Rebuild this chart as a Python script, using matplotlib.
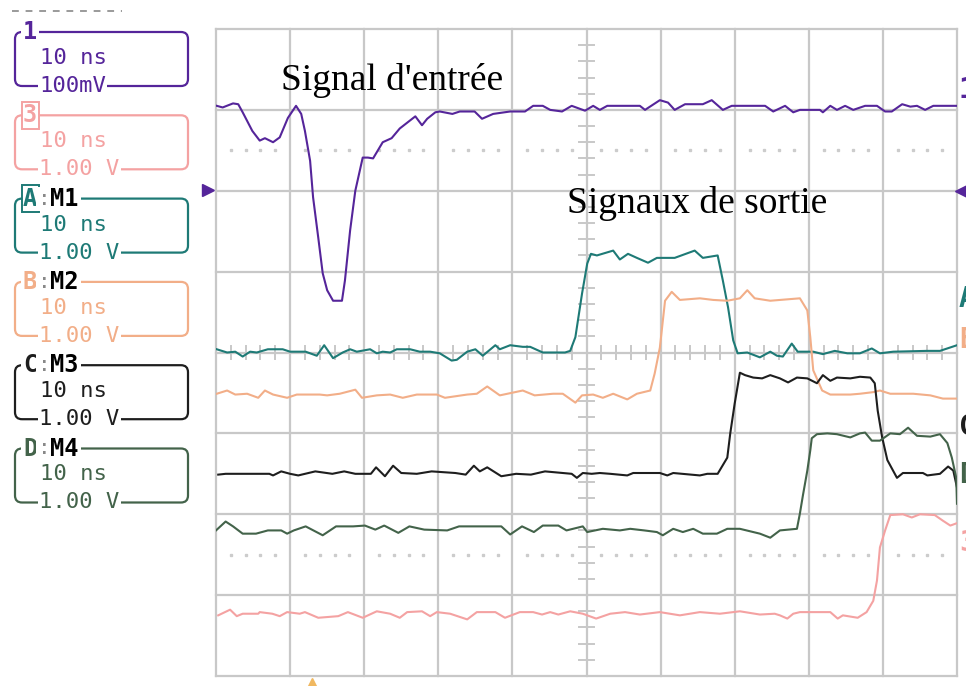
import matplotlib
matplotlib.use("Agg")
import matplotlib.pyplot as plt
from matplotlib.patches import FancyBboxPatch

# time in ns (10 ns/div), amplitude in screen divisions (0 = screen centre)
ch1_t = [0.1, 0.9, 2.3, 3.0, 3.6, 4.9, 5.9, 6.6, 7.7, 8.6, 9.7, 10.8, 11.5, 12.0, 12.7, 13.1, 13.8, 14.4,
         15.0, 15.8, 17.0, 17.4, 18.1, 18.8, 19.8, 20.5, 21.2, 22.5, 23.7, 24.8, 26.2, 26.9, 27.8, 28.5,
         29.6, 30.2, 31.9, 32.9, 34.9, 35.9, 37.4, 39.7, 41.7, 42.8, 44.1, 45.1, 46.7, 48.0, 49.8, 50.9,
         51.8, 52.8, 54.5, 57.2, 57.9, 59.9, 61.0, 61.9, 63.3, 65.7, 66.9, 68.4, 69.6, 74.1, 75.2, 76.8,
         77.9, 78.8, 81.5, 81.9, 82.9, 83.8, 84.9, 86.0, 87.6, 89.2, 90.3, 91.2, 92.6, 93.7, 94.6, 95.7,
         96.8, 100.0]
ch1_v = [3.05, 3.03, 3.08, 3.07, 2.97, 2.74, 2.62, 2.65, 2.60, 2.66, 2.90, 3.05, 2.95, 2.74, 2.37, 1.92,
         1.42, 0.98, 0.77, 0.64, 0.64, 0.89, 1.51, 2.00, 2.41, 2.41, 2.40, 2.60, 2.65, 2.77, 2.87, 2.92,
         2.81, 2.89, 2.97, 2.98, 2.95, 2.98, 2.98, 2.89, 2.95, 2.98, 2.98, 3.05, 3.05, 3.00, 2.98, 3.05,
         2.99, 3.05, 3.00, 3.05, 3.05, 3.05, 3.00, 3.12, 3.09, 3.00, 3.07, 3.07, 3.12, 3.00, 3.05, 3.05,
         2.98, 3.05, 2.97, 3.00, 3.00, 2.97, 3.05, 3.00, 3.05, 3.00, 3.05, 3.05, 2.98, 2.98, 3.07, 3.04,
         3.05, 3.00, 3.05, 3.05]

m1_t = [0.1, 1.5, 2.6, 3.6, 4.6, 5.5, 7.0, 9.0, 10.0, 12.1, 13.6, 14.6, 15.8, 17.1, 18.1, 19.0, 20.8,
        21.7, 22.5, 23.5, 24.4, 26.2, 27.5, 28.9, 30.2, 31.8, 32.5, 33.9, 35.0, 36.0, 37.7, 38.3, 39.7,
        41.4, 42.4, 44.1, 45.5, 47.1, 47.8, 48.5, 49.4, 50.1, 50.6, 51.4, 53.6, 54.5, 55.6, 56.8, 58.3,
        59.5, 61.9, 64.6, 65.7, 67.7, 68.4, 69.1, 69.8, 70.4, 71.7, 73.4, 74.8, 75.7, 76.5, 77.7, 78.5,
        80.6, 81.9, 83.5, 85.2, 86.9, 88.5, 89.6, 91.4, 95.9, 97.7, 100.0]
m1_v = [0.04, 0.00, 0.01, -0.05, 0.01, 0.00, 0.04, 0.04, 0.01, 0.01, -0.04, 0.09, -0.07, 0.00, 0.04,
        0.01, 0.04, -0.01, 0.01, 0.00, 0.04, 0.04, 0.01, 0.01, -0.01, -0.10, -0.09, 0.01, 0.04, -0.04,
        0.09, 0.04, 0.09, 0.07, 0.07, 0.00, 0.00, 0.00, 0.02, 0.19, 0.73, 1.10, 1.22, 1.20, 1.26, 1.15,
        1.22, 1.17, 1.11, 1.17, 1.17, 1.26, 1.17, 1.20, 0.89, 0.56, 0.15, -0.01, 0.00, -0.06, 0.01,
        -0.04, -0.05, 0.11, 0.01, 0.01, -0.02, 0.02, -0.01, -0.01, 0.05, -0.01, 0.01, 0.02, 0.02, 0.09]

m2_t = [0.1, 1.5, 2.6, 4.2, 5.7, 6.6, 7.7, 9.6, 10.9, 14.0, 15.0, 16.7, 18.8, 19.7, 21.7, 23.5, 25.2,
        27.1, 29.8, 30.9, 33.9, 35.2, 36.6, 38.3, 41.4, 43.0, 45.5, 46.8, 48.5, 49.4, 50.9, 52.2, 53.6,
        55.5, 56.8, 58.6, 59.2, 59.9, 60.6, 61.5, 62.6, 65.3, 67.1, 69.0, 70.7, 71.7, 72.7, 74.8, 78.8,
        79.8, 80.2, 80.6, 81.8, 82.9, 85.6, 86.9, 88.7, 89.6, 91.0, 94.1, 96.4, 98.1, 100.0]
m2_v = [-0.51, -0.47, -0.52, -0.51, -0.56, -0.47, -0.52, -0.56, -0.52, -0.52, -0.53, -0.51, -0.46,
        -0.56, -0.53, -0.52, -0.56, -0.52, -0.52, -0.56, -0.52, -0.51, -0.42, -0.53, -0.47, -0.53,
        -0.51, -0.51, -0.62, -0.53, -0.52, -0.56, -0.51, -0.58, -0.51, -0.47, -0.26, 0.06, 0.64, 0.75,
        0.65, 0.67, 0.65, 0.64, 0.67, 0.77, 0.67, 0.64, 0.67, 0.52, 0.19, -0.22, -0.47, -0.52, -0.52,
        -0.51, -0.49, -0.47, -0.51, -0.51, -0.53, -0.57, -0.57]

m3_t = [0.3, 1.3, 3.4, 7.2, 7.7, 8.8, 10.0, 11.1, 13.4, 15.7, 17.3, 18.8, 20.9, 21.6, 22.8, 23.9, 25.0,
        27.1, 29.1, 32.3, 33.7, 34.8, 35.6, 36.6, 38.5, 40.5, 42.5, 44.4, 48.0, 48.7, 49.5, 50.7, 51.8,
        53.2, 55.5, 56.3, 59.9, 60.9, 61.7, 65.3, 66.3, 67.7, 69.0, 69.4, 70.0, 70.7, 71.4, 72.5, 73.7,
        74.8, 76.1, 77.2, 78.4, 79.8, 81.1, 81.9, 82.9, 83.8, 85.6, 86.9, 88.3, 88.9, 89.3, 89.9, 90.6,
        91.9, 92.7, 94.1, 95.4, 96.0, 97.7, 98.8, 99.5, 100.0]
m3_v = [-1.51, -1.50, -1.50, -1.50, -1.52, -1.47, -1.50, -1.52, -1.47, -1.50, -1.47, -1.50, -1.50,
        -1.42, -1.53, -1.40, -1.49, -1.50, -1.47, -1.49, -1.51, -1.40, -1.47, -1.42, -1.53, -1.50,
        -1.51, -1.47, -1.50, -1.55, -1.49, -1.50, -1.49, -1.50, -1.52, -1.49, -1.49, -1.52, -1.49,
        -1.52, -1.50, -1.50, -1.30, -1.00, -0.63, -0.25, -0.28, -0.31, -0.32, -0.28, -0.32, -0.37,
        -0.31, -0.32, -0.38, -0.28, -0.35, -0.31, -0.32, -0.30, -0.31, -0.38, -0.72, -1.05, -1.33,
        -1.55, -1.49, -1.49, -1.49, -1.52, -1.50, -1.41, -1.46, -1.67]

m4_t = [0.0, 1.3, 2.3, 3.6, 5.4, 7.0, 8.8, 9.6, 10.5, 12.1, 14.4, 16.2, 18.5, 20.1, 21.5, 22.7, 24.6,
        26.1, 28.1, 31.2, 32.8, 35.4, 38.5, 39.7, 41.3, 42.9, 44.1, 46.2, 47.3, 49.5, 50.1, 52.2, 54.5,
        55.9, 57.8, 59.5, 60.3, 61.7, 63.0, 64.4, 65.7, 67.6, 69.0, 70.7, 73.4, 74.8, 76.1, 78.4, 78.8,
        79.2, 79.8, 80.2, 80.4, 81.1, 82.5, 83.8, 85.6, 86.9, 87.6, 88.5, 89.6, 91.0, 92.3, 93.4, 94.6,
        96.4, 97.7, 98.7, 99.3, 99.9, 100.0]
m4_v = [-2.20, -2.09, -2.15, -2.24, -2.24, -2.20, -2.20, -2.24, -2.20, -2.15, -2.26, -2.15, -2.15,
        -2.14, -2.19, -2.14, -2.23, -2.15, -2.19, -2.20, -2.15, -2.15, -2.15, -2.25, -2.15, -2.22,
        -2.14, -2.14, -2.20, -2.15, -2.22, -2.18, -2.20, -2.18, -2.20, -2.22, -2.26, -2.18, -2.22,
        -2.18, -2.24, -2.24, -2.18, -2.18, -2.24, -2.29, -2.20, -2.18, -1.99, -1.77, -1.46, -1.21,
        -1.06, -1.01, -1.00, -1.01, -1.05, -1.00, -0.99, -1.09, -1.09, -1.00, -1.01, -0.93, -1.03,
        -1.04, -1.01, -1.12, -1.30, -1.55, -1.87]

ch3_t = [0.3, 1.9, 2.8, 3.6, 5.7, 5.9, 7.6, 8.6, 9.6, 11.3, 12.0, 13.8, 16.5, 17.8, 19.8, 21.7, 23.5,
         24.8, 25.8, 27.8, 28.9, 29.8, 31.6, 33.9, 35.2, 37.7, 39.0, 41.0, 42.8, 44.0, 45.1, 46.2, 47.8,
         49.5, 51.3, 53.2, 55.2, 57.2, 59.9, 62.6, 65.3, 68.0, 70.7, 73.4, 75.4, 76.1, 77.1, 77.9, 78.8,
         82.9, 83.9, 84.6, 86.6, 87.8, 88.7, 89.2, 89.6, 90.3, 91.0, 92.7, 93.9, 95.0, 97.0, 98.1, 99.1,
         100.0]
ch3_v = [-3.25, -3.18, -3.26, -3.23, -3.23, -3.21, -3.23, -3.26, -3.21, -3.23, -3.21, -3.28, -3.26,
         -3.21, -3.28, -3.20, -3.23, -3.28, -3.21, -3.20, -3.26, -3.21, -3.23, -3.30, -3.21, -3.21,
         -3.28, -3.21, -3.21, -3.24, -3.21, -3.24, -3.20, -3.23, -3.29, -3.23, -3.21, -3.24, -3.21,
         -3.25, -3.21, -3.23, -3.20, -3.24, -3.23, -3.25, -3.29, -3.23, -3.21, -3.21, -3.29, -3.25,
         -3.28, -3.21, -3.07, -2.82, -2.41, -2.20, -2.01, -2.00, -2.04, -2.00, -2.01, -2.08, -2.14,
         -2.11]

# channel panel: tag, math name, timebase, scale
chan_tags = ["1", "3", "A", "B", "C", "D"]
chan_math = ["", "", "M1", "M2", "M3", "M4"]
chan_time = ["10 ns"] * 6
chan_scale = ["100mV", "1.00 V", "1.00 V", "1.00 V", "1.00 V", "1.00 V"]
# right-edge trace markers (div)
marker_pos = [3.25, 0.66, 0.15, -0.92, -1.52, -2.35]

PURPLE = "#55259a"
PINK = "#f4a2a2"
TEAL = "#1e7a76"
ORANGE = "#f2ae88"
BLACK = "#1e1e1e"
GREEN = "#43634a"
GRID = "#c8c8c8"
colors = [PURPLE, PINK, TEAL, ORANGE, BLACK, GREEN]

fig = plt.figure(figsize=(9.66, 6.86), dpi=100)

# full-figure pixel canvas for the side panel
panel = fig.add_axes([0, 0, 1, 1])
panel.set_xlim(0, 966)
panel.set_ylim(686, 0)
panel.axis("off")

ax = fig.add_axes([216 / 966, 10 / 686, 741 / 966, 647 / 686])
ax.set_xlim(0, 100)
ax.set_ylim(-4, 4)
ax.axis("off")

# graticule
for x in range(0, 101, 10):
    ax.plot([x, x], [-4, 4], color=GRID, lw=1.6, zorder=1, clip_on=False)
for y in range(-4, 5):
    ax.plot([0, 100], [y, y], color=GRID, lw=1.6, zorder=1, clip_on=False)
for i in range(1, 50):
    x = i * 2
    if x % 10:
        ax.plot([x, x], [-0.075, 0.075], color=GRID, lw=1.4, zorder=1)
        ax.plot([x], [2.5], marker="s", ms=1.6, color="#cccccc", ls="none", zorder=1)
        ax.plot([x], [-2.5], marker="s", ms=1.6, color="#cccccc", ls="none", zorder=1)
for i in range(-19, 20):
    y = i * 0.2
    if abs(y - round(y)) > 1e-6:
        ax.plot([49.0, 51.0], [y, y], color=GRID, lw=1.4, zorder=1)

traces = [(ch1_t, ch1_v, PURPLE), (ch3_t, ch3_v, PINK), (m1_t, m1_v, TEAL),
          (m2_t, m2_v, ORANGE), (m3_t, m3_v, BLACK), (m4_t, m4_v, GREEN)]
for t, v, c in traces:
    ax.plot(t, v, color=c, lw=1.5, zorder=3, solid_joinstyle="round")

# annotations
ax.text(8.8, 3.24, "Signal d'entrée", family="Liberation Serif", fontsize=27,
        va="baseline", ha="left", color="black", zorder=5)
ax.text(47.4, 1.73, "Signaux de sortie", family="Liberation Serif", fontsize=27,
        va="baseline", ha="left", color="black", zorder=5)

# right-edge channel markers (cut by the figure border)
for tag, y, c in zip(["1", "A", "B", "C", "D", "3"], marker_pos,
                     [PURPLE, TEAL, ORANGE, BLACK, GREEN, PINK]):
    ax.text(100.25, y, tag, family="DejaVu Sans Mono", fontsize=20, fontweight="bold",
            color=c, va="center", ha="left", clip_on=False)
ax.plot([100.6], [2.0], marker="<", ms=8, color=PURPLE, clip_on=False)
panel.plot([208], [190], marker=">", ms=8, color=PURPLE)
panel.plot([312], [683], marker="^", ms=7, color="#f0b860")

# side panel
panel.plot([12, 122], [11, 11], color="#9a9a9a", lw=1.4, dashes=(3.5, 3.5))
mono = "DejaVu Sans Mono"
for i, (tag, math, tb, sc, c) in enumerate(zip(chan_tags, chan_math, chan_time, chan_scale, colors)):
    top = 32 + i * 83.3
    panel.add_patch(FancyBboxPatch((15, top), 173, 54, boxstyle="round,pad=0,rounding_size=7",
                                   fill=False, ec=c, lw=1.6))
    tag_box = dict(fc="white", ec="none", pad=1.5)
    if tag in ("3", "A"):
        tag_box = dict(fc="white", ec=c, lw=1.4, pad=1.0)
    panel.text(23, top, tag, family=mono, fontsize=17, fontweight="bold", color=c,
               va="center", ha="left", bbox=tag_box)
    if math:
        panel.text(38, top, ":", family=mono, fontsize=15, color="#888888",
                   va="center", ha="left", bbox=dict(fc="white", ec="none", pad=1.5))
        panel.text(50, top, math, family=mono, fontsize=17, fontweight="bold", color="black",
                   va="center", ha="left", bbox=dict(fc="white", ec="none", pad=1.5))
    panel.text(40, top + 26, tb, family=mono, fontsize=16, color=c, va="center", ha="left")
    panel.text(39, top + 54, sc, family=mono, fontsize=16, color=c, va="center", ha="left",
               bbox=dict(fc="white", ec="none", pad=1.0))

fig.savefig("out.png", dpi=100, facecolor="white")
